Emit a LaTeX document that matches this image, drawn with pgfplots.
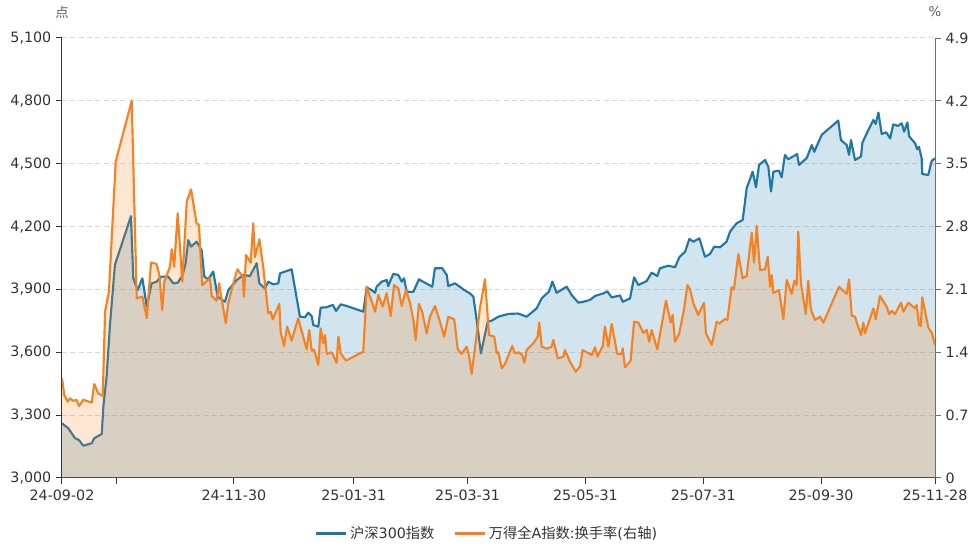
\documentclass[border=0pt]{standalone}
\usepackage{pgfplots}
\pgfplotsset{compat=1.18}
\usepackage{pgfplotstable}
\usepackage{fontspec}
\setmainfont{DejaVu Sans}
\newfontfamily\cjk{Noto Sans CJK SC}
\definecolor{hsblue}{RGB}{31,119,166}
\definecolor{wdorange}{RGB}{245,130,32}
\definecolor{gridc}{RGB}{215,215,215}
\definecolor{axc}{RGB}{51,51,51}
\definecolor{raxc}{RGB}{110,110,110}
\definecolor{txt}{RGB}{51,51,51}

\pgfplotstableread{
d v
0 3261
3.3 3237
6.7 3190
8.8 3181
11.0 3154
15.4 3166
16.7 3190
20.6 3210
21.4 3340
23.1 3484
24.9 3738
27.4 4017
35.7 4250
36.9 3953
39.2 3897
41.6 3953
43.9 3818
46.4 3929
49.0 3937
51.3 3961
55.0 3961
57.6 3929
59.9 3932
62.5 3969
64.0 4025
65.4 4136
66.8 4104
69.7 4128
72.3 4088
73.7 3961
75.7 3948
78.3 3985
80.6 3865
84.4 3841
86.1 3897
90.5 3945
93.9 3969
97.3 3964
100.8 4025
102.2 3929
105.1 3905
106.8 3937
109.4 3924
112.0 3929
112.9 3977
118.9 3996
123.2 3770
125.8 3767
127.5 3789
129.3 3773
130.1 3730
132.7 3722
133.9 3813
137.1 3815
140.2 3826
141.9 3797
144.3 3829
147.4 3821
156.0 3794
157.8 3910
160.3 3897
162.1 3884
162.9 3913
165.5 3937
168.1 3945
168.9 3916
171.5 3974
174.1 3969
175.9 3937
177.1 3953
178.5 3889
181.9 3888
184.8 3948
187.9 3932
191.7 3913
193.1 4001
196.9 4001
199.2 3969
200.0 3916
203.5 3929
208.3 3897
211.2 3881
213.0 3865
214.7 3754
216.9 3595
220.4 3746
222.5 3751
225.9 3770
231.1 3783
236.1 3785
240.6 3770
245.8 3810
248.4 3858
252.1 3889
253.9 3937
256.1 3884
261.3 3913
263.9 3873
267.3 3837
269.9 3841
273.4 3850
276.0 3869
280.3 3881
282.3 3891
284.6 3862
288.9 3871
290.3 3841
294.1 3857
296.2 3958
298.4 3921
302.7 3940
305.3 3980
308.2 3964
309.6 4001
313.9 4013
317.4 4006
319.6 4053
322.6 4080
324.8 4141
326.9 4128
330.0 4144
332.9 4056
335.5 4069
337.7 4104
340.7 4101
344.1 4128
345.9 4176
349.3 4216
352.4 4231
353.1 4279
354.5 4383
357.6 4462
359.3 4387
360.9 4494
364.0 4518
365.7 4486
367.1 4367
368.3 4462
371.2 4467
372.6 4435
374.3 4542
376.0 4521
380.6 4546
381.6 4494
385.6 4527
388.2 4589
389.5 4557
393.3 4637
401.9 4706
403.3 4613
406.3 4589
407.5 4542
408.5 4613
410.6 4518
413.7 4534
414.4 4600
417.5 4661
420.1 4709
421.3 4690
422.7 4744
424.4 4642
426.7 4650
428.8 4621
430.4 4688
432.7 4680
434.8 4693
436.0 4653
437.7 4697
438.6 4631
441.7 4597
442.8 4569
443.7 4580
445.1 4526
445.4 4451
448.5 4446
450.3 4514
452 4526
}\hsdata

\pgfplotstableread{
d v
0 1.110
1.2 0.924
3.0 0.850
4.1 0.887
5.7 0.860
7.6 0.869
8.8 0.800
11.0 0.870
15.4 0.840
16.7 1.047
18.8 0.943
21.1 0.913
22.3 1.852
24.3 2.075
25.7 2.650
27.8 3.522
36.1 4.200
38.7 2.000
41.6 2.020
43.9 1.780
46.1 2.400
49.0 2.383
50.4 2.260
51.9 1.870
53.0 2.186
55.9 2.353
56.8 2.547
58.1 2.353
59.9 2.948
62.3 2.186
64.6 3.077
66.8 3.215
69.7 2.836
70.9 2.820
72.6 2.149
76.6 2.224
77.5 2.027
80.1 1.974
81.3 2.168
84.8 1.723
86.1 1.945
88.2 2.130
90.8 2.324
93.6 2.242
94.2 2.019
95.3 2.483
97.7 2.398
99.0 2.836
99.9 2.458
102.2 2.658
104.2 2.346
106.8 1.834
108.1 1.850
109.1 1.767
112.5 1.938
113.2 1.629
114.9 1.470
116.6 1.685
118.9 1.529
122.3 1.778
126.7 1.433
128.0 1.648
129.3 1.418
130.5 1.430
132.7 1.258
133.9 1.667
135.3 1.500
136.2 1.592
137.1 1.381
139.6 1.400
142.2 1.284
143.1 1.574
144.3 1.389
147.0 1.306
156.0 1.407
157.8 2.130
159.5 2.019
162.1 1.852
163.8 2.038
166.0 1.908
168.1 2.057
170.2 1.804
171.9 2.149
174.1 2.112
175.9 1.915
178.1 2.094
180.2 1.950
181.9 1.760
183.1 1.537
184.8 1.938
186.5 1.850
188.8 1.611
190.5 1.796
193.1 1.915
195.7 1.740
197.9 1.574
200.0 1.796
203.1 1.767
204.9 1.433
206.9 1.381
209.5 1.462
210.7 1.370
212.1 1.158
216.4 1.890
219.0 2.213
221.1 1.592
223.8 1.574
225.1 1.389
225.9 1.400
227.7 1.222
229.4 1.270
233.1 1.470
234.5 1.389
236.4 1.400
238.2 1.370
239.4 1.284
240.6 1.425
244.0 1.500
246.3 1.574
247.1 1.730
248.4 1.462
251.0 1.440
253.5 1.462
254.4 1.537
256.7 1.333
259.6 1.351
260.4 1.425
263.0 1.295
266.0 1.184
268.2 1.240
269.6 1.425
271.6 1.400
274.3 1.370
276.0 1.455
277.2 1.351
280.0 1.470
281.1 1.685
282.9 1.462
284.6 1.715
287.5 1.381
289.8 1.380
290.3 1.444
291.5 1.233
294.4 1.306
296.2 1.741
298.4 1.730
301.0 1.618
302.7 1.650
304.0 1.518
305.3 1.648
308.2 1.433
310.5 1.704
312.7 1.974
315.2 1.730
316.2 1.815
317.4 1.518
319.6 1.611
322.0 1.871
323.8 2.149
325.2 2.100
326.9 1.945
329.4 1.815
332.4 1.952
333.4 1.611
336.4 1.481
339.0 1.741
340.3 1.720
343.3 1.771
344.5 1.760
346.7 2.124
347.9 2.100
350.2 2.494
352.4 2.224
354.5 2.250
357.1 2.732
358.3 2.398
359.7 2.807
361.4 2.316
364.0 2.324
365.4 2.465
366.6 2.130
367.5 2.260
368.3 2.057
371.2 2.094
373.5 1.767
375.2 2.205
377.8 2.049
379.2 2.197
380.4 2.150
381.2 2.743
382.6 2.168
385.1 1.826
386.4 2.197
387.8 1.871
389.9 1.759
392.5 1.796
394.2 1.730
402.3 2.130
406.3 2.049
407.5 2.213
408.9 1.804
410.6 1.800
411.5 1.730
413.7 1.592
414.9 1.730
415.8 1.611
420.1 1.889
421.3 1.767
423.5 2.027
427.0 1.908
428.2 1.826
429.7 1.860
431.3 1.826
434.4 1.952
435.6 1.852
438.2 1.952
441.7 1.889
442.5 1.926
443.7 1.704
444.7 1.693
445.4 2.012
448.5 1.678
450.3 1.618
452 1.481
}\turndata

\begin{document}
\begin{tikzpicture}
\path[use as bounding box] (-46.5pt,-54pt) rectangle (687.75pt,358.5pt);
\pgfplotsset{
  every axis/.append style={
    scale only axis, width=654.75pt, height=330pt,
    at={(0pt,0pt)}, anchor=south west,
    xmin=0, xmax=452,
    tick align=outside, major tick length=4.5pt,
    tick label style={font=\fontsize{10.7}{12}\selectfont, text=txt},
  },
}
\begin{axis}[
  axis x line*=bottom, axis y line*=left,
  axis line style={axc, line width=0.75pt},
  tick style={axc, line width=0.75pt},
  ymin=3000, ymax=5100,
  ytick={3000,3300,3600,3900,4200,4500,4800,5100},
  yticklabels={{3,000},{3,300},{3,600},{3,900},{4,200},{4,500},{4,800},{5,100}},
  xtick={0,28,89,151,210,271,332,393,452},
  xticklabels={24-09-02,,24-11-30,25-01-31,25-03-31,25-05-31,25-07-31,25-09-30,25-11-28},
  ymajorgrids, grid style={gridc, line width=0.75pt, dash pattern=on 3.75pt off 2.5pt},
  xticklabel style={yshift=-1pt},
]
\addplot[fill=hsblue, fill opacity=0.2, draw=none, forget plot] table[x=d,y=v]{\hsdata} \closedcycle;
\addplot[hsblue, line width=1.6pt, line join=round, forget plot] table[x=d,y=v]{\hsdata};
\end{axis}
\begin{axis}[
  axis y line*=right, axis x line=none,
  axis line style={raxc, line width=0.75pt},
  tick style={raxc, line width=0.75pt},
  ymin=0, ymax=4.9,
  ytick={0,0.7,1.4,2.1,2.8,3.5,4.2,4.9},
  yticklabels={0,0.7,1.4,2.1,2.8,3.5,4.2,4.9},
  legend style={at={(0.487,-0.127)}, anchor=center, draw=none, fill=none,
    font=\fontsize{10.7}{12}\selectfont, text=txt,
    legend columns=2, /tikz/every even column/.append style={column sep=12pt}},
  legend image code/.code={\draw[#1] (0pt,0pt) -- (22.5pt,0pt);},
]
\addlegendimage{hsblue, line width=2.25pt}
\addlegendentry{{\cjk 沪深}300{\cjk 指数}}
\addlegendimage{wdorange, line width=2.25pt}
\addlegendentry{{\cjk 万得全}A{\cjk 指数}:{\cjk 换手率}({\cjk 右轴})}
\addplot[fill=wdorange, fill opacity=0.2, draw=none, forget plot] table[x=d,y=v]{\turndata} \closedcycle;
\addplot[wdorange, line width=1.6pt, line join=round, forget plot] table[x=d,y=v]{\turndata};
\end{axis}
\node[text=txt!80, font=\cjk\fontsize{10}{12}\selectfont] at (0pt,349.5pt) {点};
\node[text=txt!80, font=\fontsize{10}{12}\selectfont] at (654.75pt,349.5pt) {\%};
\end{tikzpicture}
\end{document}
